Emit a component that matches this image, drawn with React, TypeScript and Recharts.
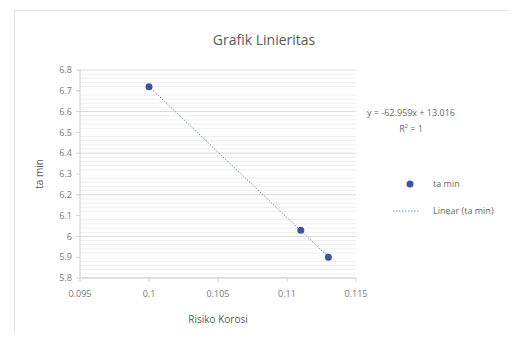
import {
  ScatterChart,
  Scatter,
  XAxis,
  YAxis,
  CartesianGrid,
  ReferenceLine,
  Label,
} from 'recharts';

// Risiko Korosi (x) vs ta min (y)
const risikoKorosi = [0.1, 0.111, 0.113];
const taMin = [6.72, 6.03, 5.9];

const xTicks = [0.095, 0.1, 0.105, 0.11, 0.115];
const yTicks = [5.8, 5.9, 6, 6.1, 6.2, 6.3, 6.4, 6.5, 6.6, 6.7, 6.8];

// trendline as printed on the chart
const slope = -62.959;
const intercept = 13.016;
const equationText = 'y = -62.959x + 13.016';
const r2Text = 'R² = 1';

const points = risikoKorosi.map((x, i) => ({ x, y: taMin[i] }));

// minor gridlines every 0.02
const minorY: number[] = [];
for (let i = 1; i < 50; i++) {
  if (i % 5 !== 0) minorY.push(+(5.8 + i * 0.02).toFixed(2));
}

const FONT = 'Open Sans, Noto Sans, sans-serif';
const BLUE = '#3a5797';

const xMin = Math.min(...risikoKorosi);
const xMax = Math.max(...risikoKorosi);

const Dot = (props: any) => <circle cx={props.cx} cy={props.cy} r={3.5} fill={BLUE} />;

export default function App() {
  return (
    <div
      style={{
        position: 'relative',
        left: 6,
        top: 2,
        width: 498,
        height: 322,
        border: '1px solid #e3e3e3',
        background: '#fff',
        fontFamily: FONT,
      }}
    >
      <div
        style={{
          position: 'absolute',
          left: 0,
          width: 498,
          top: 19,
          textAlign: 'center',
          fontSize: 14,
          color: '#595959',
        }}
      >
        Grafik Linieritas
      </div>

      <ScatterChart
        width={498}
        height={322}
        margin={{ top: 59, right: 157, left: 0, bottom: 0 }}
      >
        <CartesianGrid vertical={false} stroke="#d9d9d9" strokeWidth={1} />
        {minorY.map((v) => (
          <ReferenceLine key={v} y={v} stroke="#eeeeee" strokeWidth={1} />
        ))}
        <XAxis
          type="number"
          dataKey="x"
          domain={[0.095, 0.115]}
          ticks={xTicks}
          tickFormatter={(v) => String(+v.toFixed(3))}
          height={55}
          tickSize={4}
          tickMargin={9}
          stroke="#d0d0d0"
          tick={{ fill: '#7a7a7a', fontSize: 9, fontFamily: FONT }}
          allowDataOverflow
        >
          <Label
            value="Risiko Korosi"
            position="insideBottom"
            offset={10}
            style={{ fill: '#595959', fontSize: 10, fontFamily: FONT }}
          />
        </XAxis>
        <YAxis
          type="number"
          dataKey="y"
          domain={[5.8, 6.8]}
          ticks={yTicks}
          tickFormatter={(v) => String(+v.toFixed(1))}
          width={65}
          tickSize={4}
          tickMargin={4}
          stroke="#d0d0d0"
          tick={{ fill: '#7a7a7a', fontSize: 9, fontFamily: FONT }}
          allowDataOverflow
        >
          <Label
            value="ta min"
            angle={-90}
            position="insideLeft"
            offset={24}
            style={{ fill: '#595959', fontSize: 10, fontFamily: FONT, textAnchor: 'middle' }}
          />
        </YAxis>
        <ReferenceLine
          segment={[
            { x: xMin, y: slope * xMin + intercept },
            { x: xMax, y: slope * xMax + intercept },
          ]}
          stroke="#6b8cc9"
          strokeWidth={1}
          strokeDasharray="1.5 1.5"
          ifOverflow="visible"
        />
        <Scatter
          name="ta min"
          data={points}
          fill={BLUE}
          shape={Dot}
          isAnimationActive={false}
        />
      </ScatterChart>

      <div
        style={{
          position: 'absolute',
          left: 352,
          top: 94,
          fontSize: 9,
          color: '#6a6a6a',
          whiteSpace: 'nowrap',
          textAlign: 'center',
          lineHeight: '16px',
        }}
      >
        <div>{equationText}</div>
        <div>{r2Text}</div>
      </div>

      <div
        style={{
          position: 'absolute',
          left: 378,
          top: 166,
          fontSize: 9,
          color: '#6a6a6a',
          lineHeight: '14px',
        }}
      >
        <div style={{ display: 'flex', alignItems: 'center', height: 14 }}>
          <svg width={30} height={10}>
            <circle cx={17} cy={5} r={3.5} fill={BLUE} />
          </svg>
          <span style={{ marginLeft: 10 }}>ta min</span>
        </div>
        <div style={{ display: 'flex', alignItems: 'center', height: 14, marginTop: 13 }}>
          <svg width={30} height={10}>
            <line x1={0} y1={5} x2={26} y2={5} stroke="#6b8cc9" strokeWidth={1} strokeDasharray="1.5 1.5" />
          </svg>
          <span style={{ marginLeft: 10 }}>Linear (ta min)</span>
        </div>
      </div>
    </div>
  );
}
